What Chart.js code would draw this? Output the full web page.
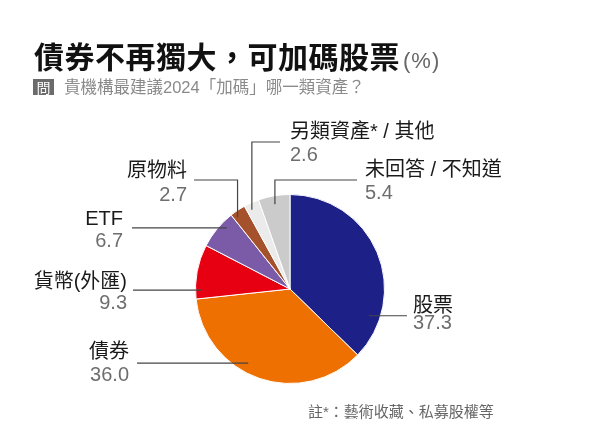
<!DOCTYPE html>
<html>
<head>
<meta charset="utf-8">
<script src="https://cdn.jsdelivr.net/npm/chart.js@4.4.1/dist/chart.umd.min.js"></script>
<style>
  html, body { margin: 0; padding: 0; background: #fff; }
  body { width: 600px; height: 448px; position: relative; overflow: hidden;
         font-family: "Liberation Sans", "Noto Sans CJK TC", sans-serif; }
  #c { position: absolute; left: 0; top: 0; }
  .abs { position: absolute; white-space: nowrap; }
  #title { left: 34px; top: 39px; font-size: 30px; line-height: 32px; font-weight: bold; color: #111;
           font-family: "Noto Sans CJK TC", sans-serif; letter-spacing: 0.5px; }
  #title span { font-weight: normal; font-size: 22px; color: #666; margin-left: 3px; letter-spacing: 1px;
                font-family: "Liberation Sans", "Noto Sans CJK TC", sans-serif; }
  #qbox { left: 33px; top: 79px; width: 21px; height: 16px; background: #6b6b6b; color: #fff;
          font-size: 14px; line-height: 16px; text-align: center; font-family: "Noto Sans CJK TC", sans-serif; }
  #sub { left: 64px; top: 78px; font-size: 16.5px; line-height: 18px; color: #8a8a8a; }
  #note { left: 308px; top: 403px; font-size: 15px; line-height: 18px; color: #666; }
</style>
</head>
<body>
<canvas id="c" width="600" height="448"></canvas>
<div class="abs" id="title">債券不再獨大，可加碼股票<span>(%)</span></div>
<div class="abs" id="qbox">問</div>
<div class="abs" id="sub">貴機構最建議2024「加碼」哪一類資產？</div>
<div class="abs" id="note">註*：藝術收藏、私募股權等</div>
<script>
// ---- data ----
const categories = ['股票', '債券', '貨幣(外匯)', 'ETF', '原物料', '另類資產* / 其他', '未回答 / 不知道'];
const values = [37.3, 36.0, 9.3, 6.7, 2.7, 2.6, 5.4];
const valueLabels = ['37.3', '36.0', '9.3', '6.7', '2.7', '2.6', '5.4'];

// ---- styles ----
const colors = ['#1d2087', '#ee7000', '#e60012', '#7b5ba8', '#a5522c', '#ebebeb', '#cbcbcb'];
// label layout: t = fraction across the slice angle, r = fraction of radius for the leader start
const labelLayout = [
  { t: 0.81, r: 0.88, endX: 407, tx: 413, align: 'left',  ny: 306, vy: 323 },
  { t: 0.58, r: 0.90, endX: 137, tx: 129, align: 'right', ny: 352, vy: 375 },
  { t: 0.16, r: 0.93, endX: 133, tx: 127, align: 'right', ny: 282, vy: 303 },
  { t: 0.69, r: 0.93, endX: 132, tx: 123, align: 'right', ny: 219, vy: 241 },
  { t: 0.24, r: 0.94, endX: 194, tx: 187, align: 'right', ny: 171, vy: 195, elbowY: 180 },
  { t: 0.33, r: 0.93, endX: 280, tx: 290, align: 'left',  ny: 132, vy: 155, elbowY: 142 },
  { t: 0.48, r: 0.91, endX: 357, tx: 365, align: 'left',  ny: 170, vy: 193, elbowY: 180 }
];

const leaderPlugin = {
  id: 'leaders',
  afterDraw(chart) {
    const ctx = chart.ctx;
    const meta = chart.getDatasetMeta(0);
    ctx.save();
    meta.data.forEach((arc, i) => {
      const p = arc.getProps(['x', 'y', 'startAngle', 'endAngle', 'outerRadius'], true);
      const L = labelLayout[i];
      const a = p.startAngle + (p.endAngle - p.startAngle) * L.t;
      const px = p.x + Math.cos(a) * p.outerRadius * L.r;
      const py = p.y + Math.sin(a) * p.outerRadius * L.r;
      ctx.strokeStyle = '#444';
      ctx.lineWidth = 1.2;
      ctx.beginPath();
      ctx.moveTo(px, py);
      if (L.elbowY !== undefined) {
        ctx.lineTo(px, L.elbowY);
        ctx.lineTo(L.endX, L.elbowY);
      } else {
        ctx.lineTo(L.endX, py);
      }
      ctx.stroke();
      ctx.textAlign = L.align;
      ctx.textBaseline = 'middle';
      ctx.font = '20px "Liberation Sans", "Noto Sans CJK TC", sans-serif';
      ctx.fillStyle = '#1a1a1a';
      ctx.fillText(categories[i], L.tx, L.ny);
      ctx.fillStyle = '#6e6e6e';
      ctx.fillText(valueLabels[i], L.tx, L.vy);
    });
    ctx.restore();
  }
};

new Chart(document.getElementById('c'), {
  type: 'pie',
  data: {
    labels: categories,
    datasets: [{
      data: values,
      backgroundColor: colors,
      borderColor: '#ffffff',
      borderWidth: 1
    }]
  },
  options: {
    responsive: false,
    animation: false,
    layout: { padding: { left: 195, right: 215, top: 194, bottom: 64 } },
    plugins: {
      legend: { display: false },
      tooltip: { enabled: false }
    }
  },
  plugins: [leaderPlugin]
});
</script>
</body>
</html>
